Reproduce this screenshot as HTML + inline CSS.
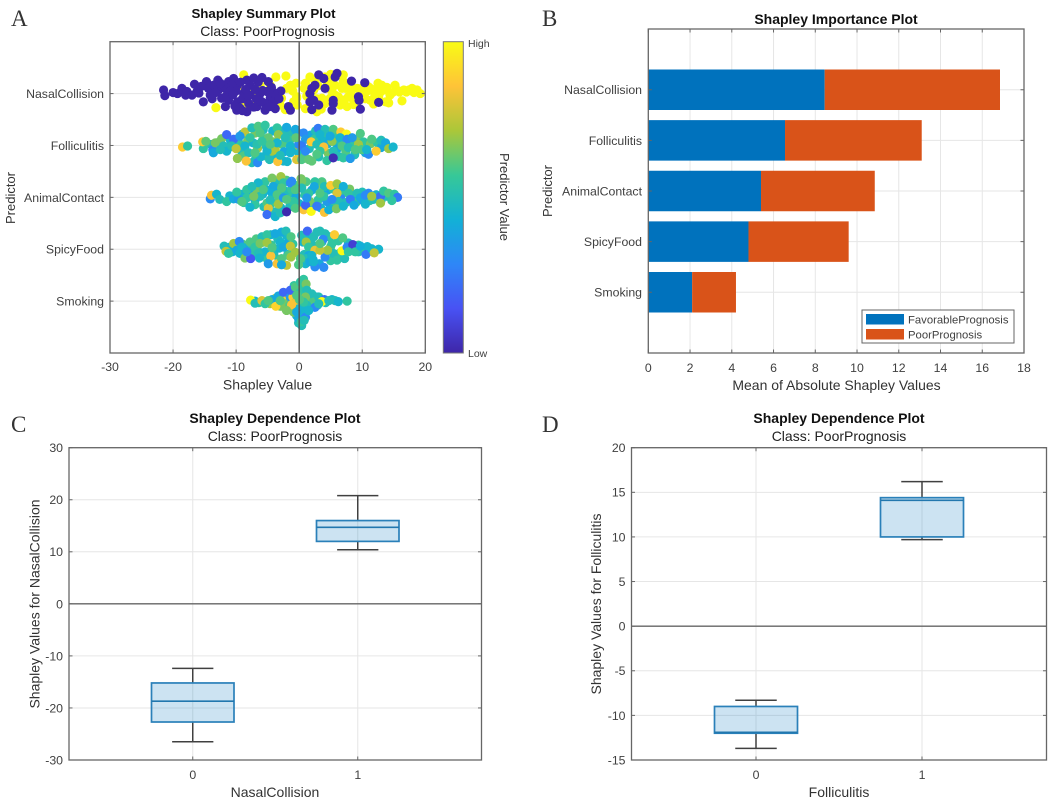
<!DOCTYPE html>
<html lang="en">
<head>
<meta charset="utf-8">
<title>Shapley plots</title>
<style>
html,body{margin:0;padding:0;background:#fff;width:1052px;height:802px;overflow:hidden}
svg{display:block;filter:blur(0.35px)}
text{font-family:"Liberation Sans",Arial,sans-serif;fill:#404040;font-size:12.3px}
.title{font-weight:bold;fill:#111;font-size:14px;text-anchor:middle}
.sub{fill:#222;font-size:14px;text-anchor:middle}
.axl{fill:#333;font-size:14px;text-anchor:middle}
.pred{fill:#333;font-size:13px;text-anchor:middle}
.letter{font-family:"Liberation Serif",serif;font-size:23px;fill:#333}
</style>
</head>
<body>
<svg id="figure" xmlns="http://www.w3.org/2000/svg" width="1052" height="802" viewBox="0 0 1052 802">
<defs>
<linearGradient id="parula-grad" x1="0" y1="1" x2="0" y2="0"></linearGradient>
</defs>
<rect width="1052" height="802" fill="#fff"/>

<text class="letter" x="11" y="26">A</text>
<text class="letter" x="542" y="26">B</text>
<text class="letter" x="11" y="432">C</text>
<text class="letter" x="542" y="432">D</text>

<g id="panelA"></g>
<text class="title" x="263.5" y="18" style="font-size:13.3px">Shapley Summary Plot</text>
<text class="sub" x="267.5" y="36">Class: PoorPrognosis</text>
<text class="axl" x="267.5" y="389.5">Shapley Value</text>
<text class="pred" transform="translate(15,198) rotate(-90)">Predictor</text>
<text class="pred" transform="translate(500,197) rotate(90)">Predictor Value</text>
<text x="468" y="47" style="font-size:10.5px">High</text>
<text x="468" y="357" style="font-size:10.5px">Low</text>

<g id="panelB"></g>
<text class="title" x="836" y="24">Shapley Importance Plot</text>
<text class="axl" x="836.5" y="390">Mean of Absolute Shapley Values</text>
<text class="pred" transform="translate(552,191) rotate(-90)">Predictor</text>

<g id="panelC"></g>
<text class="title" x="275" y="423">Shapley Dependence Plot</text>
<text class="sub" x="275" y="441">Class: PoorPrognosis</text>
<text class="axl" x="275" y="797">NasalCollision</text>
<text class="axl" transform="translate(39.5,604) rotate(-90)">Shapley Values for NasalCollision</text>

<g id="panelD"></g>
<text class="title" x="839" y="423">Shapley Dependence Plot</text>
<text class="sub" x="839" y="441">Class: PoorPrognosis</text>
<text class="axl" x="839" y="797">Folliculitis</text>
<text class="axl" transform="translate(601,604) rotate(-90)">Shapley Values for Folliculitis</text>
</svg>

<script>
/* ---------- chart data ---------- */
var predictors = ['NasalCollision','Folliculitis','AnimalContact','SpicyFood','Smoking'];
var summaryXTicks = [-30,-20,-10,0,10,20];
var importanceXTicks = [0,2,4,6,8,10,12,14,16,18];
var favorableMeans = [8.45,6.55,5.4,4.8,2.1];
var poorMeans = [8.4,6.55,5.45,4.8,2.1];
var legendLabels = ['FavorablePrognosis','PoorPrognosis'];
var parulaR = [0.2422,0.2810,0.1786,0.0689,0.2161,0.6720,0.9970,0.9769];
var parulaG = [0.1504,0.3228,0.5289,0.6948,0.7843,0.7793,0.7659,0.9839];
var parulaB = [0.6603,0.9579,0.9682,0.8394,0.5923,0.2227,0.2199,0.0805];

var nasalShap = [
-8.8,-3.7,-2.1,-13.2,-9.8,-10.4,-6.2,-7.1,-4.3,-6.7,
-2.8,-3,-2.2,-.4,-.9,-8.8,-4.6,-3.3,-1.4,-.3,
1.7,2.5,4.1,4.9,6.2,7,5.7,6.8,8.1,2.3,
1,2.8,4.1,3.6,6.5,7.6,8.6,7.8,10.2,11,
12.1,13.1,13.4,12.6,11.3,13.7,14.2,15.2,15.5,16.6,
17.9,18.7,19.2,16.3,6.2,4.7,3.3,5.7,8.4,12,
11.3,-.4,7.3,4.9,12.9,10.2,14.4,17.4,
.8,1.2,2.8,3,4.5,5.2,6,7.2,8.2,9,
9.2,10.5,11.8,12.5,13.9,14.8,15.9,17,18.2,9.8,
3.5,7,5,10.8,1,-1,-.5,-2,
-21.5,-21.3,-19.3,-18.6,-17.8,-17,-16.6,-16.2,-14.7,-14.4,
-12.9,-14.1,-15.2,-12.8,-12.3,-11.7,-11.2,-10.4,-9.8,-8.3,
-7.8,-5.9,-4.9,-2.9,-8.8,-7.8,-6.2,-5.1,-4.6,-3.8,
-5.4,-6.7,-8.3,-9.9,-11.7,-11.2,-9.8,-8,-5.4,-3.8,
-1.7,-1.4,-13.6,-10.7,-11,-7,-10,-6.8,-9,-4,
-20,-18,-15.5,-15.9,-13.3,-13.8,-12,-11.6,-10.9,-10.2,
-10.5,-9.3,-9.4,-8.5,-8.1,-7.2,-6.5,-6,-5.8,-4.4,
-7.2,-9,-12.5,-3.2,-4.6,
3.1,3.9,5.7,6,8.3,10.4,2.5,2,4.1,1.7,
1.7,2.3,3.1,5.4,5.4,9.4,9.5,12.6,9.7,5.2,
2];
var nasalJitter = [
.36,.32,.34,-.27,.13,.05,.16,.05,.04,-.13,
-.09,-.22,-.31,-.06,-.16,-.25,.16,0,.16,-.22,
.32,.23,.32,.26,.36,.36,.16,.10,.16,.07,
-.29,-.35,-.19,-.09,-.22,-.25,-.21,-.06,0,.13,
.07,.16,.07,-.06,-.13,-.16,-.18,.16,.07,.07,
.10,.07,0,-.14,-.06,.10,-.25,-.03,-.09,-.03,
.10,-.09,.1,-.09,.03,.13,-.03,.07,
.1,-.05,-.1,.15,.2,.05,-.15,-.12,.03,-.2,
.1,-.1,-.2,.2,.12,.02,.03,.03,.02,.03,
-.3,.23,.37,.05,.2,.05,.2,.1,
.07,-.04,0,.10,.04,-.03,.18,.04,.23,.10,
.26,-.03,-.16,.07,-.09,.10,.23,.29,.16,.26,
.16,.31,.23,.05,0,-.03,0,.04,-.09,-.13,
-.19,-.25,-.35,-.32,-.25,-.13,-.16,-.19,-.32,-.29,
-.25,-.32,.16,.16,0,.08,.05,-.1,-.1,.02,
.02,-.03,.14,.01,.02,-.1,.16,-.05,.05,-.24,
-.02,.22,-.28,.08,-.05,-.26,.22,-.15,.06,.12,
.3,-.33,.2,-.1,-.25,
.36,.29,.32,.39,.24,.21,.16,.10,.10,0,
-.16,-.13,-.22,-.13,-.19,-.06,-.13,-.17,-.3,-.32,
-.31];
var nasalValue = [
1,1,1,1,1,1,1,1,1,1,
1,1,1,1,1,1,1,1,1,1,
1,1,1,1,1,1,1,1,1,1,
1,1,1,1,1,1,1,1,1,1,
1,1,1,1,1,1,1,1,1,1,
1,1,1,1,1,1,1,1,1,1,
1,1,1,1,1,1,1,1,
1,1,1,1,1,1,1,1,1,1,
1,1,1,1,1,1,1,1,1,1,
1,1,1,1,1,1,1,1,
0,0,0,0,0,0,0,0,0,0,
0,0,0,0,0,0,0,0,0,0,
0,0,0,0,0,0,0,0,0,0,
0,0,0,0,0,0,0,0,0,0,
0,0,0,0,0,0,0,0,0,0,
0,0,0,0,0,0,0,0,0,0,
0,0,0,0,0,0,0,0,0,0,
0,0,0,0,0,
0,0,0,0,0,0,0,0,0,0,
0,0,0,0,0,0,0,0,0,0,
0];

var follShap = [
-14,-12.8,-11,-10.9,-9.5,-9.2,-9,-8.8,-8.2,-7.3,
-7,-6.6,-6.9,-5.7,-5.5,-5.2,-5.4,-4.2,-4.1,-3.8,
-2.8,-2.7,-2.4,-1.6,-1.5,-.9,-.3,-.1,0,.8,
1.8,1.6,2.6,2.4,3.1,3.7,4.4,4.5,4.6,5.9,
5.8,6,7.2,7.4,8.5,8.8,9.2,10.2,10.5,11.3,
12.4,13,
-18.5,-17.7,-15.2,-15.3,-14.8,-13.7,-13.3,-13.6,-12.3,-11.5,
-10.4,-12,-11.5,-12.5,-10.7,-10,-9.8,-8.6,-7.8,-7.5,
-6.5,-5.4,-6.2,-4.9,-6.7,-8.6,-8,-7.5,-8.4,-6.6,
-6.1,-4.7,-4.3,-3.8,-5.1,-7,-3.5,-2,-3.3,-2.2,
-3.5,-1.4,-1.2,-2.5,-1.9,-3.4,-.4,-.6,-.5,.7,
1,.4,1,.4,1.5,2,3,4.1,5.4,6.6,
7.5,9.7,1.9,2.8,3.9,3.3,4.4,5.2,5.4,6.5,
7.6,8.4,6.8,7.8,6.2,7,8.1,5.4,9.4,9.9,
11,10.7,11.5,12.2,13,13.7,14.2,14.9,8.9,4.9,
3.3,-4.6,-5.9,-9.4,-3,-1.4,2.8];
var follJitter = [
.02,.06,-.03,.1,.04,-.1,.22,-.2,.08,.05,
.24,-.05,-.25,.3,.13,-.02,-.2,.28,.07,-.2,
.28,.02,-.12,.24,.1,-.05,.25,.02,-.15,-.22,
.2,-.06,.28,.12,-.22,.12,.24,.03,-.15,.2,
.05,-.07,.1,-.12,.05,-.18,.12,.07,-.14,.03,
.05,-.04,
-.03,-.01,-.06,.07,.08,-.08,.05,-.14,.13,.21,
.12,-.01,-.11,-.08,-.01,-.06,-.25,.26,.15,.34,
.37,.39,.24,.15,.02,-.01,-.14,-.33,-.3,-.33,
-.22,-.27,-.11,-.08,-.11,-.14,.34,.35,.21,.15,
.05,-.01,-.11,-.3,-.31,-.31,-.27,.31,.15,.24,
.12,-.01,-.11,-.27,-.27,-.3,.33,.31,.31,.26,
.22,.23,.07,.02,-.03,-.11,-.29,.08,-.11,.15,
.12,.15,-.01,-.04,-.21,-.24,-.25,-.24,.02,-.08,
-.17,-.08,.12,-.11,.1,.05,-.06,-.03,-.08,.18,
.21,.02,.08,.18,-.19,-.14,-.17];
var follValue = [
.5,.6,.55,.45,.55,.5,.5,.6,.65,.45,
.65,.7,.55,.5,.55,.5,.55,.45,.65,.45,
.5,.6,.4,.5,.55,.7,.35,.3,.45,.6,
.4,.5,.5,.55,.5,.45,.55,.4,.65,.55,
.5,.4,.4,.6,.55,.5,.65,.55,.4,.65,
.55,.4,
.88,.55,.55,.88,.62,.3,.65,.4,.65,.2,
.22,.5,.45,.5,.5,.75,.68,.75,.55,.5,
.6,.55,.6,.62,.52,.45,.5,.5,.85,.3,
.45,.5,.7,.72,.45,.6,.55,.4,.68,.5,
.45,.45,.45,.45,.45,.85,.8,.4,.62,.3,
.35,.25,.3,.6,.62,.62,.25,.5,.6,.88,
1,.6,.88,.5,.85,.55,.55,.68,.5,.45,
.3,.35,.6,.5,.5,.55,.35,.02,.7,.6,
.3,.45,.6,.88,.5,.4,.7,.45,.6,.4,
.45,.6,.55,.35,.5,.45,.6];

var animalShap = [
-11,-10,-9,-8.8,-7.6,-7,-7,-6,-5.8,-5.6,
-5.4,-5,-4.5,-4,-3.8,-3.6,-3.2,-2.9,-2,-1.8,
-1.5,-.8,-.5,0,.2,.9,1.1,2,2.2,2.9,
3,3.4,3.6,4.5,5,5.4,5.6,6.6,6.8,7.4,
8,8.6,9,10,10,11,11.2,12.2,13,13.9,
-14.1,-13.9,-13.1,-12.6,-11.5,-10.4,-9.6,-9.9,-8.3,-8.3,
-7.8,-9.1,-6.7,-6.5,-6.2,-5.1,-4.9,-5.1,-3.8,-3,
-3.3,-2,-4.3,-2.9,-2.5,-4.1,-4.3,-3.5,-2.2,-1.2,
-1.2,-.9,-.6,.4,.4,1.5,1.7,.7,1,1.9,
2.8,4,4.7,2.5,2.4,4,5,6,6,6.2,
4.4,3.9,5.9,7,7,7.8,9.2,8.1,8.7,9.7,
10.5,10.5,11.8,12.9,13.4,14.2,15.1,15.6,14.7,12.9,
11.5,-5.7,-2.5,-4.6,3.3,-2,-2.8,1.2,5.2,-7.2,
-7.5,-1.4,.3,-.6];
var animalJitter = [
.03,.03,.06,-.1,.1,-.05,-.14,.2,.06,-.18,
.3,.14,-.12,-.28,.3,-.1,.15,-.2,.33,.05,
-.18,.24,.02,-.12,.25,.05,.3,.14,-.14,.24,
-.05,-.2,.3,.14,-.15,.16,-.07,.02,.14,-.1,
.16,.03,-.1,.1,-.05,.08,-.06,.05,-.05,.02,
-.03,.04,.06,-.04,-.08,-.03,-.04,.1,.15,-.01,
-.19,-.08,.15,.28,.02,-.11,-.21,-.33,-.37,-.3,
-.13,-.28,.37,.4,.28,.21,.08,.05,.12,.15,
.31,-.08,-.21,.31,.18,.08,-.08,-.24,-.15,-.27,
-.17,-.29,-.24,.3,.21,.21,.23,.26,.08,-.08,
-.08,.02,-.22,-.17,.21,.08,.08,-.04,-.15,-.01,
.04,-.13,-.04,.02,.12,.08,.06,0,-.06,-.11,
.02,.15,-.01,-.05,.08,-.04,.18,-.01,-.04,.02,
.21,.28,.36,.15];
var animalValue = [
.45,.5,.45,.55,.4,.4,.55,.6,.45,.5,
.55,.45,.55,.5,.5,.6,.4,.45,.6,.55,
.5,.55,.4,.45,.6,.55,.6,.4,.5,.65,
.55,.45,.6,.4,.45,.55,.55,.3,.55,.5,
.65,.4,.55,.5,.35,.3,.55,.45,.5,.5,
.3,.85,.45,.5,.55,.4,.35,.55,.55,.55,
.45,.6,.65,.45,.5,.6,.8,.22,.45,.5,
.7,.01,.65,.7,.55,.4,.42,.6,.5,.55,
.3,.55,.6,.65,.5,.55,.65,.85,.2,1,
.25,.85,.42,.55,.4,.5,.88,.7,.8,.5,
.35,.55,.65,.45,.42,.55,.5,.25,.4,.4,
.3,.45,.5,.22,.55,.6,.55,.25,.55,.7,
.7,.6,.35,.5,.6,.6,.6,.35,.3,.65,
.5,.3,.65,.6];

var spicyShap = [
-11,-10.6,-10,-9,-8.8,-8,-7.4,-7.4,-6.8,-6.6,
-6,-5.6,-5.4,-5,-4.5,-4.4,-4,-3.4,-3.2,-3.2,
-2,-2,-1.8,-1,-.8,.6,.8,1,1.4,2,
2.2,2.8,3,3.2,3.6,4.2,4.8,5,5,6.2,
6.4,7,7.8,8.2,8.8,9.4,9.4,10.4,10.8,11.2,
-11.9,-11.6,-11.2,-10.4,-9.9,-9.5,-9.1,-9.4,-8.6,-7.7,
-8.3,-7.8,-7,-5.9,-5.1,-6.2,-5.1,-6.5,-6.3,-4.5,
-4.9,-3.5,-4.3,-3.8,-2.8,-2.1,-1.3,-3,-2.5,-1.4,
-1.7,-2.8,-2,-2.8,-.6,-1.3,-.1,.4,1.3,1.1,
2.3,1.5,2.5,1.5,1,1.7,2.5,3.9,2.3,3.3,
4.1,3.8,5.6,6.9,5.2,5.4,4.1,6,7.2,4.5,
6.8,7.6,8.5,7.8,8.9,9.7,10.6,11.5,12.6,11.9,
3.3,3.3,.2,2];
var spicyJitter = [
.04,-.05,.02,.1,.03,-.03,.08,-.1,.2,-.02,
-.15,.14,-.05,-.2,.28,.08,-.1,.2,.02,-.2,
.26,.1,-.1,.1,-.06,.14,-.1,-.28,.22,.1,
-.2,.33,.06,-.28,.14,-.05,.24,.05,-.22,.16,
-.08,-.16,.12,.03,-.04,.08,-.05,.02,.05,-.03,
.06,-.04,-.08,.11,-.02,.15,.04,-.08,-.17,-.18,
-.05,.14,.04,.24,.28,.11,.13,-.08,-.17,-.13,
-.28,-.28,.03,.3,.33,.35,.24,.14,.04,.06,
-.12,-.18,-.31,-.3,-.06,-.15,-.3,.27,.35,.14,
.24,.04,-.02,-.12,-.18,-.24,-.34,-.35,-.24,.35,
.3,.19,.28,.22,.11,-.08,-.15,-.21,-.18,-.02,
-.03,.04,.09,-.05,-.05,.06,-.1,.01,0,-.07,
-.02,.11,-.18,-.12];
var spicyValue = [
.45,.45,.4,.6,.4,.45,.5,.55,.6,.5,
.55,.5,.45,.55,.45,.55,.5,.5,.45,.55,
.45,.4,.5,.55,.55,.45,.5,.45,.45,.5,
.4,.5,.5,.4,.5,.45,.55,.6,.55,.55,
.55,.55,.5,.45,.5,.55,.5,.55,.45,.45,
.5,.75,.55,.7,.4,.3,.45,.45,.65,.15,
.3,.6,.55,.5,.55,.65,.7,.5,.45,.85,
.35,.85,.6,.4,.4,.5,.6,.45,.4,.75,
.6,.6,.75,.4,.7,.7,.6,.5,.2,.7,
.5,.55,.82,.4,.5,.4,.3,.3,.45,.5,
.5,.3,.88,.6,.55,.5,.3,.55,.5,.7,
1,.3,.08,.55,.55,.42,.25,.45,.45,.75,
.75,.6,.6,.45];

var smokingShap = [
-7,-6.4,-5,-4.6,-3.8,-3.5,-3,-2.4,-2.2,-1.8,
-1.2,-1,-.9,-.4,-.4,.3,.3,.2,.4,.8,
.9,1,1.7,1.8,2,2.8,2.9,3.4,4.2,5.2,
-.1,.6,-.8,
-7.7,-7,-5.9,-5.4,-4.3,-3.7,-2.8,-3.3,-2.5,-2.1,
-1.4,-1,-.6,-1.5,-.9,-.1,.4,-1.4,-.6,.2,
.7,1.1,.2,1.2,2,1,2.3,1.2,.7,1,
2.5,3.1,4,3.6,4.7,5.7,6.2,7.6,3.1,-.1,
-1.2,-.4,.7,.05,.3,.8,-.4,1.5,-3,-4.9,
-2];
var smokingJitter = [
0,-.03,-.03,-.05,.05,-.06,-.1,.05,-.14,.12,
-.12,.17,-.02,.24,-.28,.3,.12,-.1,-.24,.25,
.02,-.13,.14,-.1,-.02,.08,-.08,.04,-.03,.03,
-.42,.37,.3,
.02,-.04,.01,-.05,.03,-.1,.04,.1,.17,-.05,
.08,.08,-.02,-.08,-.21,-.34,-.47,.21,.27,.37,
.42,.33,.17,.21,.14,.08,-.02,-.08,-.18,-.31,
-.12,.08,.03,-.01,.01,.01,-.01,0,-.05,-.15,
-.07,.11,-.02,.03,-.4,-.37,-.21,-.18,.01,.01,
-.18];
var smokingValue = [
.45,.55,.4,.7,.7,.6,.65,.6,.65,.55,
.6,.65,.55,.6,.45,.6,.6,.5,.45,.55,
.65,.55,.55,.45,.6,.45,.55,.35,.5,.45,
.5,.6,.55,
1,.5,.8,.55,.4,.9,.88,.4,.2,.65,
.35,.88,.82,.6,.65,.4,.5,.2,.6,.55,
.55,.65,.55,.5,.5,.65,.6,.5,.45,.3,
.3,.5,.22,1,.5,.5,.45,.55,.5,.45,
.85,.6,.55,.6,.55,.5,.4,.45,.6,.6,
.65];

var nasalBoxCats = [0,1];
var nasalBoxQ1 = [-22.7,12];
var nasalBoxMedian = [-18.7,14.7];
var nasalBoxQ3 = [-15.2,16];
var nasalBoxLow = [-26.5,10.4];
var nasalBoxHigh = [-12.4,20.8];
var nasalYTicks = [-30,-20,-10,0,10,20,30];

var follBoxCats = [0,1];
var follBoxQ1 = [-12,10];
var follBoxMedian = [-11.9,14.1];
var follBoxQ3 = [-9,14.4];
var follBoxLow = [-13.7,9.7];
var follBoxHigh = [-8.3,16.2];
var follYTicks = [-15,-10,-5,0,5,10,15,20];

/* ---------- helpers ---------- */
var NS = 'http://www.w3.org/2000/svg';
var AXIS = '#666666', GRID = '#e6e6e6';
function mk(parent, tag, attrs, txt) {
  var el = document.createElementNS(NS, tag);
  for (var k in attrs) { el.setAttribute(k, attrs[k]); }
  if (txt !== undefined) { el.textContent = txt; }
  parent.appendChild(el);
  return el;
}
function scale(d0, d1, r0, r1) {
  return function (v) { return r0 + (v - d0) * (r1 - r0) / (d1 - d0); };
}
function parula(v) {
  var t = Math.max(0, Math.min(1, v)) * (parulaR.length - 1);
  var i = Math.min(parulaR.length - 2, Math.floor(t)), f = t - i;
  function ch(a) { return Math.round(255 * (a[i] + (a[i + 1] - a[i]) * f)); }
  return 'rgb(' + ch(parulaR) + ',' + ch(parulaG) + ',' + ch(parulaB) + ')';
}
function hLine(g, x1, x2, y, color, w, name) {
  var el = mk(g, 'line', {x1: x1, x2: x2, y1: y, y2: y, stroke: color, 'stroke-width': w});
  
  
  return el;
}
function vLine(g, x, y1, y2, color, w, name) {
  var el = mk(g, 'line', {x1: x, x2: x, y1: y1, y2: y2, stroke: color, 'stroke-width': w});
  
  
  return el;
}
function tickText(g, x, y, str, anchor, name) {
  var el = mk(g, 'text', {x: x, y: y, 'text-anchor': anchor}, str);
  
  
  return el;
}
function frame(g, L, R, T, B) {
  var el = mk(g, 'rect', {x: L, y: T, width: R - L, height: B - T, fill: 'none', stroke: AXIS, 'stroke-width': 1.3});
  
  
}
function xTicks(g, ticks, sx, T, B, labelY) {
  ticks.forEach(function (t) {
    var x = sx(t);
    vLine(g, x, B, B - 3.5, AXIS, 1, 'x-tick');
    vLine(g, x, T, T + 3.5, AXIS, 1, 'x-tick-top');
    tickText(g, x, labelY, String(t), 'middle', 'x-tick-label');
  });
}
function yTicks(g, ticks, labels, sy, L, R, labelX) {
  ticks.forEach(function (t, i) {
    var y = sy(t);
    hLine(g, L, L + 3.5, y, AXIS, 1, 'y-tick');
    hLine(g, R - 3.5, R, y, AXIS, 1, 'y-tick-right');
    tickText(g, labelX, y + 4.4, labels[i], 'end', 'y-tick-label');
  });
}

/* ---------- panel A: swarm summary ---------- */
(function () {
  var g = document.getElementById('panelA');
  var L = 110, R = 425.3, T = 41.7, B = 353;
  var sx = scale(-30, 20, L, R), sy = scale(0, 6, T, B);
  var rows = [1, 2, 3, 4, 5];
  summaryXTicks.forEach(function (t) { vLine(g, sx(t), T, B, GRID, 1, 'x-grid-line'); });
  rows.forEach(function (r) { hLine(g, L, R, sy(r), GRID, 1, 'y-grid-line'); });
  function swarm(row, shap, jit, val, name) {
    var sg = mk(g, 'g', {});
    
    
    shap.forEach(function (s, i) {
      var c = mk(sg, 'circle', {cx: sx(s), cy: sy(row - jit[i]), r: 4.6, fill: parula(val[i])});
      
      
    });
  }
  swarm(1, nasalShap, nasalJitter, nasalValue, 'nasal-collision');
  swarm(2, follShap, follJitter, follValue, 'folliculitis');
  swarm(3, animalShap, animalJitter, animalValue, 'animal-contact');
  swarm(4, spicyShap, spicyJitter, spicyValue, 'spicy-food');
  swarm(5, smokingShap, smokingJitter, smokingValue, 'smoking');
  vLine(g, sx(0), T, B, '#555555', 1.4, 'zero-line');
  frame(g, L, R, T, B);
  xTicks(g, summaryXTicks, sx, T, B, 371);
  yTicks(g, rows, predictors, sy, L, R, 104);

  var grad = document.getElementById('parula-grad');
  parulaR.forEach(function (_, i) {
    var frac = i / (parulaR.length - 1);
    mk(grad, 'stop', {offset: frac, 'stop-color': parula(frac)});
  });
  var bar = mk(g, 'rect', {x: 443.3, y: 41.7, width: 20, height: 311.3, fill: 'url(#parula-grad)', stroke: '#777777', 'stroke-width': 1});
  
  
})();

/* ---------- panel B: stacked importance bars ---------- */
(function () {
  var g = document.getElementById('panelB');
  var L = 648.3, R = 1024, T = 29, B = 353;
  var sx = scale(0, 18, L, R), sy = scale(-0.2, 6.2, T, B);
  var rows = [1, 2, 3, 4, 5];
  importanceXTicks.forEach(function (t) { vLine(g, sx(t), T, B, GRID, 1, 'x-grid-line'); });
  rows.forEach(function (r) { hLine(g, L, R, sy(r), GRID, 1, 'y-grid-line'); });
  var h = sy(0.8) - sy(0);
  rows.forEach(function (r, i) {
    var a = mk(g, 'rect', {x: sx(0), y: sy(r) - h / 2, width: sx(favorableMeans[i]) - sx(0), height: h, fill: '#0072bd'});
    
    
    var b = mk(g, 'rect', {x: sx(favorableMeans[i]), y: sy(r) - h / 2, width: sx(favorableMeans[i] + poorMeans[i]) - sx(favorableMeans[i]), height: h, fill: '#d95319'});
    
    
  });
  frame(g, L, R, T, B);
  xTicks(g, importanceXTicks, sx, T, B, 372);
  yTicks(g, rows, predictors, sy, L, R, 642);

  var lg = mk(g, 'g', {});
  
  
  var box = mk(lg, 'rect', {x: 862, y: 310, width: 152, height: 33, fill: '#fff', stroke: '#666666', 'stroke-width': 1});
  
  
  var cols = ['#0072bd', '#d95319'];
  legendLabels.forEach(function (lab, i) {
    var sw = mk(lg, 'rect', {x: 866, y: 314 + i * 15, width: 38, height: 10.5, fill: cols[i]});
    
    
    var t = mk(lg, 'text', {x: 908, y: 323.5 + i * 15, style: 'font-size:11.3px'}, lab);
    
    
  });
})();

/* ---------- panels C & D: box plots ---------- */
function boxPanel(id, L, R, T, B, yMin, yMax, ticks, cats, q1, med, q3, lo, hi) {
  var g = document.getElementById(id);
  var sx = scale(-0.75, 1.75, L, R), sy = scale(yMin, yMax, B, T);
  cats.forEach(function (c) { vLine(g, sx(c), T, B, GRID, 1, 'x-grid-line'); });
  ticks.forEach(function (t) { hLine(g, L, R, sy(t), GRID, 1, 'y-grid-line'); });
  hLine(g, L, R, sy(0), '#666666', 1.4, 'zero-line');
  cats.forEach(function (c, i) {
    var cx = sx(c), hw = sx(0.25) - sx(0), cw = sx(0.125) - sx(0);
    vLine(g, cx, sy(hi[i]), sy(q3[i]), '#404040', 1.5, 'upper-whisker');
    vLine(g, cx, sy(q1[i]), sy(lo[i]), '#404040', 1.5, 'lower-whisker');
    hLine(g, cx - cw, cx + cw, sy(hi[i]), '#404040', 1.5, 'upper-whisker-cap');
    hLine(g, cx - cw, cx + cw, sy(lo[i]), '#404040', 1.5, 'lower-whisker-cap');
    var r = mk(g, 'rect', {x: cx - hw, y: sy(q3[i]), width: 2 * hw, height: sy(q1[i]) - sy(q3[i]), fill: 'rgba(0,114,189,0.2)', stroke: '#2a80b9', 'stroke-width': 1.7});
    
    
    hLine(g, cx - hw, cx + hw, sy(med[i]), '#2277ae', 1.6, 'median-line');
  });
  frame(g, L, R, T, B);
  xTicks(g, cats, sx, T, B, 779);
  yTicks(g, ticks, ticks.map(String), sy, L, R, L - 6);
}
boxPanel('panelC', 69, 481.5, 447.7, 760, -30, 30, nasalYTicks, nasalBoxCats, nasalBoxQ1, nasalBoxMedian, nasalBoxQ3, nasalBoxLow, nasalBoxHigh);
boxPanel('panelD', 631.5, 1046.5, 447.7, 760, -15, 20, follYTicks, follBoxCats, follBoxQ1, follBoxMedian, follBoxQ3, follBoxLow, follBoxHigh);
</script>
</body>
</html>
